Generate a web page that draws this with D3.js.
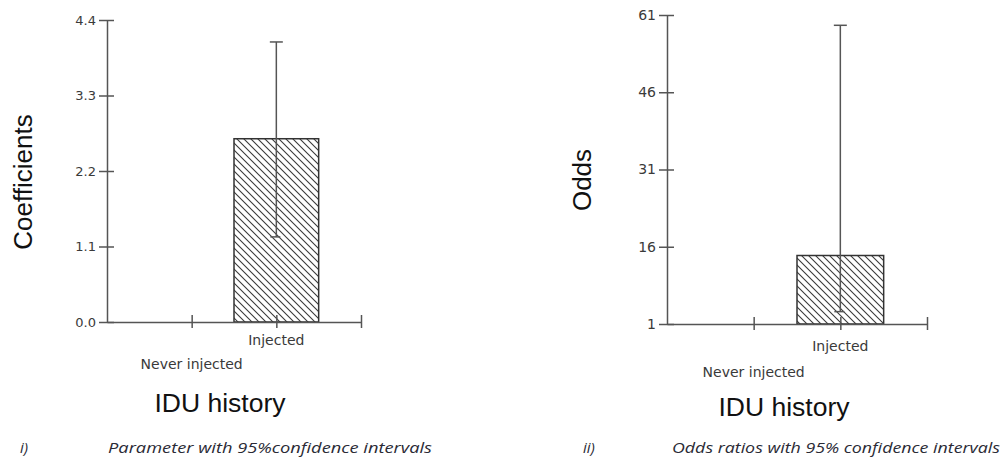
<!DOCTYPE html>
<html><head><meta charset="utf-8">
<script src="https://cdn.jsdelivr.net/npm/d3@7"></script>
<style>body{margin:0;background:#fff}svg{display:block}</style>
</head><body>
<svg id="c" width="1005" height="459"></svg>
<script>
// ---- data ----
const categories = ["Never injected", "Injected"];
const catPos = [1, 2];
const coefValues = [null, 2.67];
const coefLower = [null, 1.24];
const coefUpper = [null, 4.08];
const oddsValues = [null, 14.3];
const oddsLower = [null, 3.4];
const oddsUpper = [null, 59.0];
const coefTicks = [0, 1.1, 2.2, 3.3, 4.4];
const oddsTicks = [1, 16, 31, 46, 61];
const xBoundaryTicks = [1, 2, 3];

const svg = d3.select("#c");
const defs = svg.append("defs");
const H = 7;
const pat = defs.append("pattern").attr("id", "hatch").attr("patternUnits", "userSpaceOnUse")
  .attr("width", H).attr("height", H);
pat.append("rect").attr("width", H).attr("height", H).attr("fill", "#fff");
pat.append("path").attr("d", `M-1,-1 L${H+1},${H+1} M-${H/2},${H/2} L${H/2},${H*1.5} M${H/2},-${H/2} L${H*1.5},${H/2}`)
  .attr("stroke", "#3a3a3a").attr("stroke-width", 1.1);

function panel(opt) {
  const g = svg.append("g");
  const y = d3.scaleLinear().domain(opt.yDomain).range([opt.y0, opt.y1]);
  const x = d3.scaleLinear().domain([0, 3]).range([opt.x0, opt.x1]);

  // bars
  const data = categories.map((c, i) => ({c, p: catPos[i], v: opt.values[i], lo: opt.lower[i], hi: opt.upper[i]}))
    .filter(d => d.v != null);
  g.selectAll("rect.bar").data(data).enter().append("rect")
    .attr("x", d => x(d.p - 0.5)).attr("width", d => x(d.p + 0.5) - x(d.p - 0.5))
    .attr("y", d => y(d.v)).attr("height", d => y(opt.yDomain[0]) - y(d.v))
    .attr("fill", "url(#hatch)").attr("stroke", "#333").attr("stroke-width", 1.5);

  // y axis
  const ya = g.append("g").attr("transform", `translate(${opt.x0},0)`)
    .call(d3.axisLeft(y).tickValues(opt.ticks).tickSize(0).tickPadding(11).tickFormat(opt.fmt));
  ya.select(".domain").attr("stroke", "#555").attr("stroke-width", 1.5);
  ya.selectAll(".tick line").remove();
  ya.selectAll(".tick").append("line").attr("x1", -8).attr("x2", 7).attr("stroke", "#555").attr("stroke-width", 1.5);
  ya.selectAll(".tick text").attr("fill", "#3a3a3a").attr("font-family", "DejaVu Sans").attr("font-size", opt.tickFs);

  // x axis
  const xa = g.append("g").attr("transform", `translate(0,${opt.y0})`)
    .call(d3.axisBottom(x).tickValues(xBoundaryTicks).tickSize(0).tickFormat(""));
  xa.select(".domain").attr("stroke", "#555").attr("stroke-width", 1.5);
  xa.selectAll(".tick line").remove();
  xa.selectAll(".tick").append("line").attr("y1", -7).attr("y2", 6).attr("stroke", "#555").attr("stroke-width", 1.5);

  // category labels (staggered)
  g.selectAll("text.cat").data(categories).enter().append("text")
    .attr("x", (d, i) => x(catPos[i])).attr("y", (d, i) => opt.y0 + opt.catDy[i])
    .attr("text-anchor", "middle").attr("font-family", "DejaVu Sans").attr("font-size", 14)
    .attr("fill", "#3a3a3a").text(d => d);

  // error bars
  const eb = g.selectAll("g.eb").data(data).enter().append("g").attr("stroke", "#555").attr("stroke-width", 1.5);
  eb.append("line").attr("x1", d => x(d.p)).attr("x2", d => x(d.p)).attr("y1", d => y(d.hi)).attr("y2", d => y(d.lo));
  eb.append("line").attr("x1", d => x(d.p) - 6.5).attr("x2", d => x(d.p) + 6.5).attr("y1", d => y(d.hi)).attr("y2", d => y(d.hi));
  eb.append("line").attr("x1", d => x(d.p) - 6).attr("x2", d => x(d.p) + 4).attr("y1", d => y(d.lo)).attr("y2", d => y(d.lo));

  // axis titles
  g.append("text").attr("transform", `translate(${opt.ylabX},${opt.ylabY}) rotate(-90)`)
    .attr("text-anchor", "middle").attr("font-family", "Liberation Sans").attr("font-size", 26)
    .attr("fill", "#111").text(opt.ylab);
  g.append("text").attr("x", opt.xlabX).attr("y", opt.xlabY).attr("text-anchor", "middle")
    .attr("font-family", "Liberation Sans").attr("font-size", 26.5).attr("fill", "#111").text("IDU history");

  // captions
  g.append("text").attr("x", opt.numX).attr("y", 453).attr("font-family", "Open Sans").attr("font-style", "italic")
    .attr("font-size", 15).attr("fill", "#2a2a35").text(opt.num);
  g.append("text").attr("x", opt.capX).attr("y", 453).attr("font-family", "Open Sans").attr("font-style", "italic")
    .attr("font-size", 15).attr("fill", "#2a2a35").attr("textLength", opt.capW).attr("lengthAdjust", "spacingAndGlyphs")
    .text(opt.cap);
}

panel({yDomain: [0, 4.4], y0: 322, y1: 20, x0: 107, x1: 361, values: coefValues, lower: coefLower, upper: coefUpper,
  ticks: coefTicks, fmt: d3.format(".1f"), tickFs: 13, catDy: [47, 23],
  ylab: "Coefficients", ylabX: 32, ylabY: 182, xlabX: 220, xlabY: 412,
  num: "i)", numX: 20, cap: "Parameter with 95%confidence intervals", capX: 108, capW: 324});

panel({yDomain: [1, 61], y0: 324, y1: 15, x0: 667, x1: 927, values: oddsValues, lower: oddsLower, upper: oddsUpper,
  ticks: oddsTicks, fmt: d3.format("d"), tickFs: 14, catDy: [53, 27],
  ylab: "Odds", ylabX: 591, ylabY: 180, xlabX: 784, xlabY: 416,
  num: "ii)", numX: 583, cap: "Odds ratios with 95% confidence intervals", capX: 672, capW: 328});
</script>
</body></html>
